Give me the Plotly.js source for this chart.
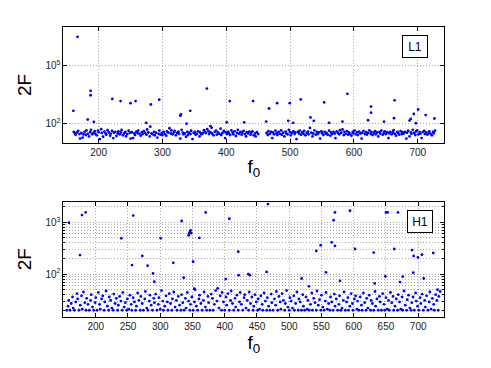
<!DOCTYPE html>
<html>
<head>
<meta charset="utf-8">
<script src="https://cdn.plot.ly/plotly-3.0.1.min.js"></script>
<style>
  html, body { margin: 0; padding: 0; background: #ffffff; }
  #chart { width: 491px; height: 368px; }
</style>
</head>
<body>
<div id="chart"></div>
<script>
// L1 detector: bulk of templates
const l1F0 = [
  161,163,164,166,168,170,171,173,175,176,178,180,181,183,185,187,188,190,192,194,
  195,197,199,200,202,204,205,207,209,211,212,214,216,218,219,221,223,224,226,228,
  230,231,233,235,236,238,240,242,243,245,247,249,250,252,254,256,257,259,261,262,
  264,266,268,269,271,273,275,276,278,280,281,283,285,287,288,290,292,294,295,297,
  299,300,302,304,306,307,309,311,313,314,316,318,319,321,323,325,326,328,330,332,
  333,335,337,339,340,342,344,345,347,349,351,352,354,356,358,359,361,363,365,366,
  368,370,372,373,375,377,378,380,382,384,385,387,389,391,392,394,396,398,399,401,
  403,404,406,408,410,411,413,415,417,418,420,422,424,425,427,429,431,432,434,436,
  438,439,441,443,445,446,448,450,463,465,466,468,470,472,473,475,477,479,480,482,
  484,486,487,489,491,493,494,496,498,500,501,503,505,507,508,510,512,514,515,517,
  519,521,522,524,526,528,529,531,533,535,536,538,540,542,543,545,547,549,550,552,
  554,556,557,559,561,563,564,566,568,570,571,573,575,577,578,580,582,584,585,587,
  589,591,592,594,596,598,599,601,603,605,606,608,610,612,613,615,617,619,620,622,
  624,626,627,629,631,633,634,636,638,640,641,643,645,647,648,650,652,654,655,657,
  659,661,662,664,666,668,669,671,673,675,676,678,680,682,683,685,687,689,690,692,
  694,696,697,699,701,703,704,706,708,710,711,713,715,717,718,720,722,724,725,727
];
const l1TwoF = [
  38,31,27,35,42,29,17,33,19,28,37,26,45,30,22,36,48,28,33,41,
  30,25,44,36,16,52,33,21,39,31,27,46,35,24,30,42,18,34,38,23,
  32,40,28,35,47,25,31,37,22,29,43,34,17,36,18,31,26,39,33,44,
  30,24,36,29,41,33,27,50,35,22,70,31,28,38,25,34,19,30,44,27,
  33,26,37,29,24,40,35,58,31,45,28,36,42,25,33,39,30,17,48,34,
  28,31,21,38,26,34,29,43,16,33,37,27,30,40,22,35,28,32,46,38,
  33,52,41,29,36,62,31,25,38,44,27,35,30,55,26,33,42,18,36,29,
  38,31,26,45,34,28,40,23,33,48,30,37,27,35,42,29,22,36,31,39,
  27,34,40,25,31,22,36,29,33,26,41,30,37,18,35,28,43,32,26,38,
  30,45,27,34,22,39,31,28,47,36,25,33,40,29,35,16,38,31,44,27,
  36,30,42,25,33,39,28,60,34,22,31,45,27,37,29,35,17,40,32,26,
  38,30,33,27,43,24,35,29,37,31,18,40,33,28,46,34,50,26,38,30,
  41,27,35,30,24,37,32,44,28,36,26,39,31,17,34,42,29,36,27,33,
  45,30,38,26,34,41,28,35,22,37,31,44,27,33,40,29,36,18,32,38,
  28,35,46,30,24,37,33,27,41,29,36,31,38,17,34,43,22,35,30,48,
  33,26,39,45,28,36,31,18,38,42,29,35,27,33,40,30,25,37,32,44
];
// L1 loud outliers
const l1PeakF0 = [
  160.4,167,183,187.5,187.5,192.6,221.4,234.4,250,257.9,274.6,281.8,295,328,329,337.7,343.5,
  369.5,375,400.8,405.5,428,442,462.4,467,479.6,497,499.4,504.7,516.6,531.8,537,553.3,561,
  582,589.7,622,626.7,626.7,647,662.7,663.6,687,689,693.7,697,700.5,712.3,726
];
const l1PeakTwoF = [
  460,3100000,163,5000,2950,123,1900,1480,1150,1480,110,980,1750,260,300,100,460,
  6500,75,118,1480,118,1480,128,610,1150,140,1150,110,1800,210,140,1260,110,
  128,3500,150,770,370,128,193,1620,145,175,316,105,540,280,185
];

// H1 detector: bulk of templates
const h1F0 = [
  155,157,158,160,162,164,165,167,169,171,172,174,176,178,179,181,183,185,186,188,
  190,192,193,195,197,199,200,202,204,206,207,209,211,213,214,216,218,220,221,223,
  225,227,228,230,232,234,235,237,239,241,242,244,246,248,249,251,253,255,256,258,
  260,262,263,265,267,269,270,272,274,276,277,279,281,283,284,286,288,290,291,293,
  295,297,298,300,302,304,305,307,309,311,312,314,316,318,319,321,323,325,326,328,
  330,332,333,335,337,339,340,342,344,346,347,349,351,353,354,356,358,360,361,363,
  365,367,368,370,372,374,375,377,379,381,382,384,386,388,389,391,393,395,396,398,
  400,402,403,405,407,409,410,412,414,416,417,419,421,423,424,426,428,430,431,433,
  435,437,438,440,442,444,445,447,449,451,452,454,456,458,459,461,463,465,466,468,
  470,472,473,475,477,479,480,482,484,486,487,489,491,493,494,496,498,500,501,503,
  505,507,508,510,512,514,515,517,519,521,522,524,526,528,529,531,533,535,536,538,
  540,542,543,545,547,549,550,552,554,556,557,559,561,563,564,566,568,570,571,573,
  575,577,578,580,582,584,585,587,589,591,592,594,596,598,599,601,603,605,606,608,
  610,612,613,615,617,619,620,622,624,626,627,629,631,633,634,636,638,640,641,643,
  645,647,648,650,652,654,655,657,659,661,662,664,666,668,669,671,673,675,676,678,
  680,682,683,685,687,689,690,692,694,696,697,699,701,703,704,706,708,710,711,713,
  715,717,718,720,722,724,725,727,729,731,732,734
];
const h1TwoF = [
  20,24,31,20,27,36,22,20,29,42,33,20,25,38,21,45,28,20,34,26,
  20,31,40,23,20,28,35,20,44,26,21,33,38,20,29,47,24,20,36,31,
  22,20,41,27,34,20,25,37,30,20,44,23,28,20,33,21,39,26,20,35,
  29,20,24,43,31,20,37,27,20,33,46,22,20,30,39,25,20,34,28,41,
  20,26,35,21,48,30,20,24,38,29,20,42,27,20,33,45,23,31,20,37,
  25,20,40,28,20,34,22,44,30,20,26,36,20,29,50,24,20,33,39,27,
  20,31,45,23,20,37,28,20,41,34,20,26,48,30,53,22,38,20,44,29,
  20,36,25,42,20,31,47,27,20,34,23,39,20,29,44,26,20,35,40,22,
  31,20,45,27,36,20,24,40,29,20,33,21,38,26,20,43,30,20,35,24,
  20,41,28,20,33,25,46,20,37,29,21,42,31,20,27,48,23,20,35,30,
  22,38,20,27,45,20,33,29,20,40,24,20,36,21,31,20,26,43,20,34,
  28,20,47,25,32,20,39,23,20,30,44,21,27,20,36,29,20,41,24,33,
  20,26,38,20,22,31,45,20,29,35,20,24,42,27,20,33,38,21,30,20,
  36,25,20,43,28,20,34,22,39,20,31,27,20,46,24,33,20,37,29,20,
  42,26,20,35,21,31,20,44,28,37,20,24,33,20,40,29,21,36,20,47,
  25,20,32,39,22,20,28,36,20,43,30,24,20,35,27,41,20,31,23,38,
  20,29,45,21,34,26,20,40,31,20,37,46
];
// H1 loud outliers
const h1PeakF0 = [
  158.5,178.7,184.4,175.6,239.6,258.2,256.2,272.2,280.5,288.8,290.8,300.7,320.2,333.3,336.4,
  344,345,346,347,348,351,352.8,360.5,370.5,401.5,407.1,421,421.6,436.5,439,465,467,
  519.3,530.6,542,548.8,557,565.8,568.9,570.9,570.9,578.7,594.2,602,631,632.5,649,650,
  652.6,662.8,668.6,671.7,675.9,690.3,693,692.3,699.6,705.8,708.5,723.3,730
];
const h1PeakTwoF = [
  980,1380,1550,233,490,1350,149,224,145,103,71,490,165,1060,85,
  560,610,650,700,620,173,52,500,1550,80,1170,270,95,100,95,110,2250,
  82,58,280,360,108,410,1100,1550,350,74,1670,305,260,66,90,1550,
  1550,305,1550,70,89,290,224,106,210,236,82,255,50
];

const topTicks = [200, 300, 400, 500, 600, 700];
const bottomTicks = [200, 250, 300, 350, 400, 450, 500, 550, 600, 650, 700];
const l1YTicks = [100, 100000];
const l1YLabels = ['10<sup>2</sup>', '10<sup>5</sup>'];
const h1YTicks = [100, 1000];
const h1YLabels = ['10<sup>2</sup>', '10<sup>3</sup>'];
const h1MinorTicks = [20, 30, 40, 50, 60, 70, 80, 90, 200, 300, 400, 500, 600, 700, 800, 900, 2000];

const FONT = 'Liberation Sans, Arial, Helvetica, sans-serif';
const GRID = '#a8a8a8';
const GRID_DASH = '1px,2px';

function dots(x, y, xa, ya) {
    return {
        x: x, y: y, xaxis: xa, yaxis: ya,
        type: 'scatter', mode: 'markers',
        marker: { color: '#0000ff', size: 2.8, line: { width: 0 } },
        showlegend: false, hoverinfo: 'skip'
    };
}

function xAxis(ticks, range, anchor) {
    return {
        domain: [0.1293, 0.9043], anchor: anchor,
        range: range,
        tickmode: 'array', tickvals: ticks,
        ticks: 'inside', ticklen: 4, tickcolor: '#000',
        showline: true, linecolor: '#000', linewidth: 1, mirror: 'ticks',
        showgrid: true, gridcolor: GRID, griddash: GRID_DASH, gridwidth: 1,
        zeroline: false,
        tickfont: { size: 10, color: '#222', family: FONT },
        title: { text: 'f<sub>0</sub>', font: { size: 19, color: '#000', family: FONT }, standoff: 2 }
    };
}

function yAxis(range, domain, anchor, vals, labels) {
    return {
        type: 'log', domain: domain, anchor: anchor,
        range: range,
        tickmode: 'array', tickvals: vals, ticktext: labels,
        ticks: 'inside', ticklen: 4, tickcolor: '#000',
        showline: true, linecolor: '#000', linewidth: 1, mirror: 'ticks',
        showgrid: true, gridcolor: GRID, griddash: GRID_DASH, gridwidth: 1,
        zeroline: false,
        tickfont: { size: 10, color: '#222', family: FONT },
        title: { text: '2F', font: { size: 19, color: '#000', family: FONT }, standoff: 8 }
    };
}

// boxed detector name in the upper right corner of each panel
function detectorLabel(text, x, y) {
    return {
        text: text, xref: 'paper', yref: 'paper', x: x, y: y,
        xanchor: 'center', yanchor: 'middle',
        showarrow: false, bgcolor: '#ffffff', bordercolor: '#000000', borderwidth: 1,
        borderpad: 1, width: 22, height: 19,
        font: { size: 12, color: '#000000', family: FONT }
    };
}

const traces = [
    dots(l1F0.concat(l1PeakF0), l1TwoF.concat(l1PeakTwoF), 'x', 'y'),
    dots(h1F0.concat(h1PeakF0), h1TwoF.concat(h1PeakTwoF), 'x2', 'y2')
];

const yaxis2 = yAxis([1.176, 3.398], [0.1394, 0.4519], 'x2', h1YTicks, h1YLabels);
yaxis2.minor = {
    tickmode: 'array', tickvals: h1MinorTicks,
    ticks: 'inside', ticklen: 2, tickcolor: '#000',
    showgrid: true, gridcolor: GRID, griddash: GRID_DASH, gridwidth: 1
};

const layout = {
    width: 491, height: 368,
    margin: { l: 0, r: 0, t: 0, b: 0 },
    paper_bgcolor: '#ffffff', plot_bgcolor: '#ffffff',
    font: { family: FONT },
    xaxis: xAxis(topTicks, [145, 741], 'y'),
    yaxis: yAxis([1, 7], [0.6114, 0.9266], 'x', l1YTicks, l1YLabels),
    xaxis2: xAxis(bottomTicks, [150, 740], 'y2'),
    yaxis2: yaxis2,
    annotations: [
        detectorLabel('L1', 0.8462, 0.8723),
        detectorLabel('H1', 0.856, 0.3976)
    ]
};

Plotly.newPlot('chart', traces, layout, { displayModeBar: false, staticPlot: true });
</script>
</body>
</html>
